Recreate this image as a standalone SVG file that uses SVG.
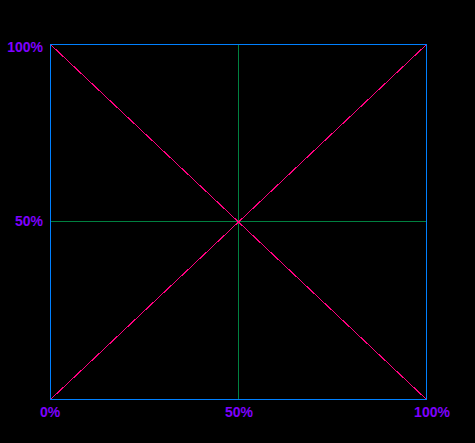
<svg xmlns="http://www.w3.org/2000/svg" width="475" height="443" viewBox="0 0 475 443">
<style>
.lbl{font-family:"Liberation Sans",Arial,sans-serif;font-weight:bold;font-size:14px;fill:#7f00ff}
.frame{fill:none;stroke:#0080ff;stroke-width:1}
.mid{stroke:#008040;stroke-width:1}
.diag{stroke:#ff0080;stroke-width:1}
</style>
<rect width="475" height="443" fill="#000"/>
<g id="connectors" shape-rendering="crispEdges">
<line class="mid" x1="238.5" y1="44.5" x2="238.5" y2="399.5"/>
<line class="mid" x1="50.5" y1="221.5" x2="426.5" y2="221.5"/>
</g>
<g id="diagonals" shape-rendering="crispEdges">
<line class="diag" x1="50.5" y1="44.5" x2="426.5" y2="399.5"/>
<line class="diag" x1="50.5" y1="399.5" x2="426.5" y2="44.5"/>
</g>
<g id="frame" shape-rendering="crispEdges">
<rect class="frame" x="50.5" y="44.5" width="376" height="355"/>
</g>
<g id="labels">
<text class="lbl" x="43" y="52" text-anchor="end">100%</text>
<text class="lbl" x="43" y="226" text-anchor="end">50%</text>
<text class="lbl" x="50" y="417" text-anchor="middle">0%</text>
<text class="lbl" x="239" y="417" text-anchor="middle">50%</text>
<text class="lbl" x="432" y="417" text-anchor="middle">100%</text>
</g>
</svg>
